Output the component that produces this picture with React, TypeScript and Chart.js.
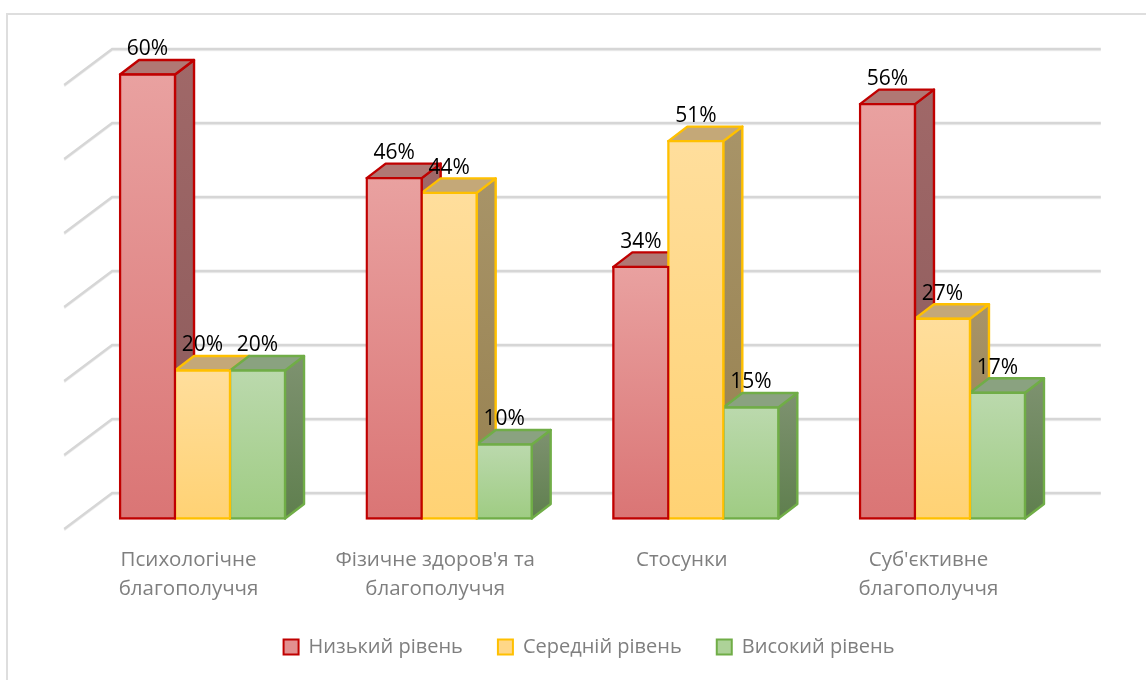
import React, { useEffect, useRef } from "react";
import { Chart, registerables } from "chart.js";

Chart.register(...registerables);

const categories = [
  ["Психологічне", "благополуччя"],
  ["Фізичне здоров'я та", "благополуччя"],
  ["Стосунки"],
  ["Суб'єктивне", "благополуччя"],
];
const seriesNames = ["Низький рівень", "Середній рівень", "Високий рівень"];
const lowValues = [60, 46, 34, 56];
const midValues = [20, 44, 51, 27];
const highValues = [20, 10, 15, 17];
const seriesValues = [lowValues, midValues, highValues];

const strokeColors = ["#C00000", "#FFC000", "#70AD47"];
const frontTop = ["#E9A1A0", "#FFDE9C", "#BBD9AD"];
const frontBottom = ["#DA7575", "#FFD274", "#9FCC83"];
const sideTop = ["#A06868", "#A89468", "#7E9270"];
const sideBottom = ["#8A5A5A", "#96804F", "#5F7F4E"];
const roofColors = ["#B07874", "#C4A878", "#8AA280"];
const legendFill = ["#E29090", "#FFD788", "#ADD298"];

const DX = 19;
const DY = 14.5;
const FONT = "'Open Sans', sans-serif";

const wallPlugin = {
  id: "wall",
  afterLayout(chart: any) {
    chart.legend.left += 33;
  },
  beforeDatasetsDraw(chart: any) {
    const { ctx, chartArea, scales } = chart;
    ctx.save();
    // frame
    ctx.strokeStyle = "#DEDEDE";
    ctx.lineWidth = 2;
    ctx.beginPath();
    ctx.moveTo(7, 680);
    ctx.lineTo(7, 14);
    ctx.lineTo(1146, 14);
    ctx.stroke();
    // gridlines from the value scale
    scales.y.ticks.forEach((t: any) => {
      const p = scales.y.getPixelForValue(t.value);
      const bx = chartArea.left + 33;
      const by = p - 25.5;
      const fx = chartArea.left - 15;
      const fy = p + 10.5;
      const rx = chartArea.right + 35;
      ctx.strokeStyle = "#EDEDED";
      ctx.lineWidth = 2;
      ctx.beginPath();
      ctx.moveTo(fx, fy + 1.2);
      ctx.lineTo(bx, by + 1.2);
      ctx.lineTo(rx, by + 1.2);
      ctx.stroke();
      ctx.strokeStyle = "#D6D6D6";
      ctx.lineWidth = 2.5;
      ctx.beginPath();
      ctx.moveTo(fx, fy);
      ctx.lineTo(bx, by);
      ctx.lineTo(rx, by);
      ctx.stroke();
    });
    // depth faces of the bars, read from the bar elements
    categories.forEach((_, c) => {
      seriesValues.forEach((_, s) => {
        const bar = chart.getDatasetMeta(s).data[c];
        const { x, y, base, width } = bar.getProps(["x", "y", "base", "width"], true);
        const l = x - width / 2;
        const r = x + width / 2;
        ctx.lineWidth = 2.4;
        ctx.strokeStyle = strokeColors[s];
        ctx.lineJoin = "round";
        const g = ctx.createLinearGradient(0, y - DY, 0, base);
        g.addColorStop(0, sideTop[s]);
        g.addColorStop(1, sideBottom[s]);
        ctx.fillStyle = g;
        ctx.beginPath();
        ctx.moveTo(r, y);
        ctx.lineTo(r + DX, y - DY);
        ctx.lineTo(r + DX, base - DY);
        ctx.lineTo(r, base);
        ctx.closePath();
        ctx.fill();
        ctx.stroke();
        ctx.fillStyle = roofColors[s];
        ctx.beginPath();
        ctx.moveTo(l, y);
        ctx.lineTo(l + DX, y - DY);
        ctx.lineTo(r + DX, y - DY);
        ctx.lineTo(r, y);
        ctx.closePath();
        ctx.fill();
        ctx.stroke();
      });
    });
    ctx.restore();
  },
  afterDatasetsDraw(chart: any) {
    const { ctx } = chart;
    ctx.save();
    ctx.fillStyle = "#000000";
    ctx.font = `21px ${FONT}`;
    ctx.textAlign = "center";
    ctx.textBaseline = "middle";
    seriesValues.forEach((vals, s) => {
      vals.forEach((v, c) => {
        const bar = chart.getDatasetMeta(s).data[c];
        const { x, y } = bar.getProps(["x", "y"], true);
        ctx.fillText(`${v}%`, x, y - 25);
      });
    });
    ctx.restore();
  },
};

export default function App() {
  const ref = useRef<HTMLCanvasElement>(null);
  useEffect(() => {
    const gradient = (s: number) => (context: any) => {
      const chart = context.chart;
      if (context.type !== "data" || !chart.scales.y) return frontTop[s];
      const yScale = chart.scales.y;
      const g = chart.ctx.createLinearGradient(
        0,
        yScale.getPixelForValue(context.raw),
        0,
        yScale.getPixelForValue(0)
      );
      g.addColorStop(0, frontTop[s]);
      g.addColorStop(1, frontBottom[s]);
      return g;
    };
    const chart = new Chart(ref.current!, {
      type: "bar",
      data: {
        labels: categories as any,
        datasets: seriesValues.map((vals, s) => ({
          label: seriesNames[s],
          data: vals,
          backgroundColor: gradient(s),
          borderColor: strokeColors[s],
          borderWidth: 2.4,
          borderSkipped: false,
          inflateAmount: 1.2,
          barPercentage: 1,
          categoryPercentage: 0.669,
          clip: false,
        })),
      } as any,
      options: {
        responsive: false,
        animation: false,
        layout: { padding: { left: 79.2, right: 80.2, top: 74.5, bottom: 13 } },
        plugins: {
          tooltip: { enabled: false },
          legend: {
            position: "bottom",
            labels: {
              boxWidth: 15,
              boxHeight: 15,
              padding: 35,
              color: "#7F7F7F",
              font: { size: 20, family: FONT },
              generateLabels: () =>
                seriesNames.map((text, s) => ({
                  text,
                  fillStyle: legendFill[s],
                  strokeStyle: strokeColors[s],
                  lineWidth: 2,
                  fontColor: "#7F7F7F",
                  datasetIndex: s,
                })),
            },
          },
        },
        scales: {
          x: {
            grid: { display: false },
            border: { display: false },
            ticks: {
              color: "#7F7F7F",
              font: { size: 20.5, family: FONT, lineHeight: 1.41 },
              padding: 19,
              labelOffset: -14,
              maxRotation: 0,
              minRotation: 0,
              autoSkip: false,
            },
            afterFit: (s: any) => {
              s.height = 83.5;
            },
          },
          y: {
            display: false,
            min: 0,
            max: 60,
            ticks: { stepSize: 10 },
          },
        },
      } as any,
      plugins: [wallPlugin],
    });
    return () => chart.destroy();
  }, []);
  return (
    <div style={{ position: "fixed", left: 0, top: 0, width: 1146, height: 680, background: "#fff" }}>
      <canvas ref={ref} width={1146} height={680} style={{ display: "block", width: 1146, height: 680 }} />
    </div>
  );
}
